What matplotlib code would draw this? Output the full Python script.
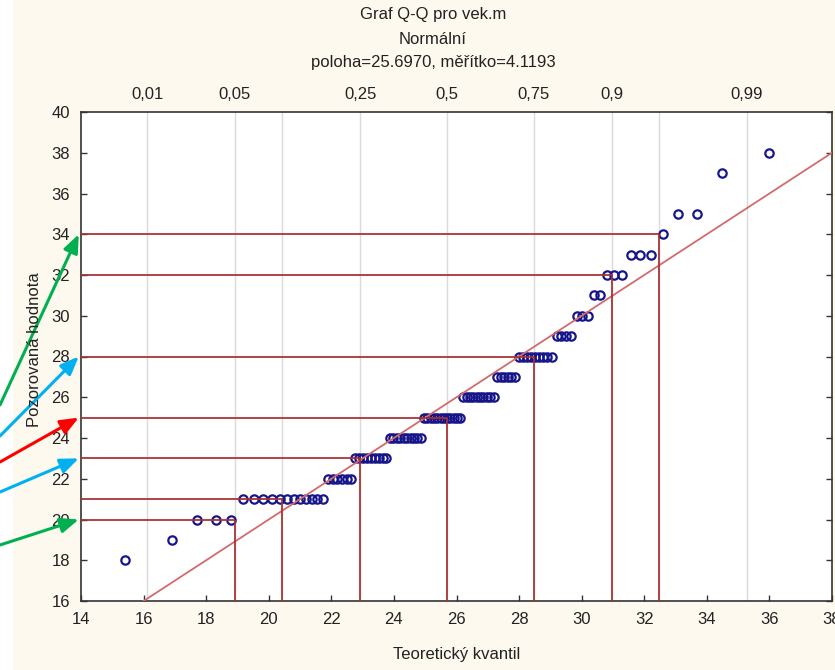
import numpy as np
import matplotlib
matplotlib.use("Agg")
import matplotlib.pyplot as plt
from matplotlib.patches import Rectangle
from statistics import NormalDist

# ---- data (observed ages and their frequencies) ----
ages   = [18, 19, 20, 21, 22, 23, 24, 25, 26, 27, 28, 29, 30, 31, 32, 33, 34, 35, 37, 38]
counts = [1,  1,  3,  12, 6,  9,  10, 12, 10, 6,  9,  4,  3,  2,  3,  3,  1,  2,  1,  1]

# probability levels shown on the top axis
top_probs  = [0.01, 0.05, 0.25, 0.5, 0.75, 0.9, 0.99]
top_labels = ["0,01", "0,05", "0,25", "0,5", "0,75", "0,9", "0,99"]
grid_probs = [0.01, 0.05, 0.1, 0.25, 0.5, 0.75, 0.9, 0.95, 0.99]

# quantile guide lines: probability -> observed value
guide_probs  = [0.05, 0.1, 0.25, 0.5, 0.75, 0.9, 0.95]
guide_values = [20, 21, 23, 25, 28, 32, 34]

# arrows (colour, target value, start height in figure px from top)
arrow_colors  = ["#00B050", "#00B0F0", "#FF0000", "#00B0F0", "#00B050"]
arrow_targets = [34, 28, 25, 23, 20]
arrow_starts  = [405, 436, 462, 492, 545]

x_ticks = list(range(14, 40, 2))
y_ticks = list(range(16, 42, 2))

# ---- derived QQ quantities ----
obs = np.repeat(ages, counts).astype(float)
n = len(obs)
mean = obs.mean()
sd = obs.std(ddof=1)
nd = NormalDist()
theo = np.array([mean + sd * nd.inv_cdf((i - 0.375) / (n + 0.25)) for i in range(1, n + 1)])
q = lambda p: mean + sd * nd.inv_cdf(p)

# ---- figure ----
W, H = 835, 670
fig = plt.figure(figsize=(W / 100, H / 100), dpi=100)
fig.patch.set_facecolor("#FDF9EF")
fig.patches.append(Rectangle((0, 0), 13 / W, 1, transform=fig.transFigure,
                             facecolor="white", edgecolor="none", zorder=-1))

font = ["Liberation Sans Narrow", "Liberation Sans", "DejaVu Sans"]
plt.rcParams["font.family"] = font
fs = 12

ax = fig.add_axes([81 / W, 1 - 601 / H, (832 - 81) / W, (601 - 112) / H])
ax.set_facecolor("white")
ax.set_xlim(14, 38)
ax.set_ylim(16, 40)

for p in grid_probs:
    ax.axvline(q(p), color="#DADADA", lw=1.0, zorder=1)

# reference line y = x
ax.plot([14, 38], [14, 38], color="#D46A6A", lw=1.3, zorder=3)

# points
ax.plot(theo, obs, linestyle="none", marker="o", markersize=6.0,
        markerfacecolor="none", markeredgecolor="#16168A", markeredgewidth=1.6, zorder=2)

# quantile guides
for p, v in zip(guide_probs, guide_values):
    xq = q(p)
    ax.plot([14, xq], [v, v], color="#A8302F", lw=1.4, alpha=0.9, zorder=4,
            solid_capstyle="butt")
    ax.plot([xq, xq], [16, v], color="#A8302F", lw=1.4, alpha=0.9, zorder=4,
            solid_capstyle="butt")

ax.set_xticks(x_ticks)
ax.set_yticks(y_ticks)
ax.tick_params(axis="both", direction="in", length=4, width=1, colors="#333333",
               labelsize=fs, labelcolor="#222222", top=False, right=True)
ax.tick_params(axis="x", pad=8)
ax.tick_params(axis="y", pad=8)
for s in ax.spines.values():
    s.set_color("#333333")
    s.set_linewidth(1.2)

sec = ax.secondary_xaxis("top")
sec.set_xticks([q(p) for p in top_probs])
sec.set_xticklabels(top_labels)
sec.tick_params(length=0, pad=7, labelsize=fs, labelcolor="#222222")
sec.spines["top"].set_visible(False)

cx = 433 / W
fig.text(cx, 1 - 14 / H, "Graf Q-Q pro vek.m", ha="center", va="center", fontsize=fs, color="#222222")
fig.text(cx, 1 - 40 / H, "Normální", ha="center", va="center", fontsize=fs, color="#222222")
fig.text(cx, 1 - 62 / H, f"poloha={mean:.4f}, měřítko={sd:.4f}", ha="center", va="center",
         fontsize=fs, color="#222222")
fig.text(457 / W, 1 - 655 / H, "Teoretický kvantil", ha="center", va="center", fontsize=fs, color="#222222")
fig.text(35 / W, 1 - 350 / H, "Pozorovaná hodnota", ha="center", va="center", rotation=90,
         fontsize=fs, color="#222222")

# arrows
for c, t, sy in zip(arrow_colors, arrow_targets, arrow_starts):
    ax.annotate("", xy=(-0.003, t), xycoords=("axes fraction", "data"),
                xytext=(0, 1 - sy / H), textcoords="figure fraction",
                arrowprops=dict(arrowstyle="-|>,head_length=1.1,head_width=0.45",
                                color=c, lw=2.2, shrinkA=0, shrinkB=0),
                annotation_clip=False, zorder=10)

fig.savefig("out.png", dpi=100, facecolor=fig.get_facecolor())
